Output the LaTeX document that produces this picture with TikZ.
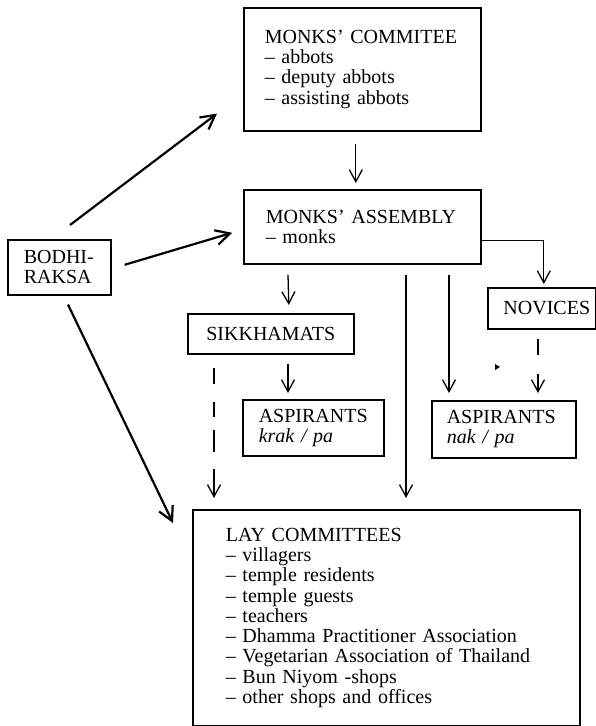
\documentclass[tikz,border=0pt]{standalone}
\usepackage{fontspec}
\setmainfont{Liberation Serif}
\usetikzlibrary{arrows.meta}
\begin{document}
\begin{tikzpicture}[x=1pt,y=-1pt,
  font=\fontsize{20}{20.25}\selectfont,
  box/.style={draw, line width=1.6pt, anchor=north west, inner ysep=0pt, align=left},
  conn/.style={line width=1.3pt, -{Straight Barb[length=12pt,width=13pt]}},
  diag/.style={line width=2.2pt, -{Straight Barb[length=14pt,width=15pt]}}]
\useasboundingbox (0,0) rectangle (596,726);

% boxes
\node[box, text width=195pt, inner xsep=21pt, minimum height=123pt] (comm) at (243,7)
  {MONKS' COMMITEE\\-- abbots\\-- deputy abbots\\-- assisting abbots};
\node[box, text width=193pt, inner xsep=22pt, minimum height=74pt] (assem) at (243,189)
  {MONKS' ASSEMBLY\\-- monks};
\node[box, text width=71pt, inner xsep=16pt, minimum height=55pt] (bodhi) at (7,239)
  {BODHI-\\RAKSA};
\node[box, align=center, minimum width=166pt, minimum height=40pt, inner xsep=0pt] (sikkh) at (187,313)
  {SIKKHAMATS};
\node[box, align=center, minimum width=108pt, minimum height=41pt, inner xsep=0pt] (nov) at (487,287)
  {\hspace*{10pt}NOVICES};
\node[box, text width=109pt, inner xsep=16pt, minimum height=56pt] (asp1) at (242,399)
  {ASPIRANTS\\\textit{krak / pa}};
\node[box, text width=114pt, inner xsep=15pt, minimum height=57pt] (asp2) at (431,400)
  {ASPIRANTS\\\textit{nak / pa}};
\node[box, text width=321pt, inner xsep=33pt, minimum height=216pt] (lay) at (192,509)
  {LAY COMMITTEES\\-- villagers\\-- temple residents\\-- temple guests\\-- teachers\\-- Dhamma Practitioner Association\\-- Vegetarian Association of Thailand\\-- Bun Niyom -shops\\-- other shops and offices};

% connectors from BODHI-RAKSA
\draw[diag] ([shift={(63pt,14pt)}]bodhi.north west) -- ([shift={(-26pt,18pt)}]comm.south west);
\draw[diag] ([shift={(13pt,2.5pt)}]bodhi.east) -- ([shift={(-11pt,-6pt)}]assem.west);
\draw[diag] ([shift={(61pt,-9pt)}]bodhi.south west) -- ([shift={(-19pt,-14pt)}]lay.north west);

% committee -> assembly
\draw[conn] ([shift={(-6.5pt,-12pt)}]comm.south) -- ([shift={(-6.5pt,6pt)}]assem.north);

% assembly -> others
\draw[conn] ([yshift=-14pt]assem.east) -| ([shift={(2pt,3pt)}]nov.north);
\draw[conn] ([shift={(45pt,-10pt)}]assem.south west) -- ([shift={(18pt,8pt)}]sikkh.north);
\draw[conn] ([shift={(163pt,-10pt)}]assem.south west) -- ([shift={(214pt,11pt)}]lay.north west);
\draw[conn] ([shift={(206pt,-10pt)}]assem.south west) -- ([shift={(18pt,7pt)}]asp2.north west);

% sikkhamats
\draw[conn] ([shift={(101pt,-9pt)}]sikkh.south west) -- ([shift={(46pt,6pt)}]asp1.north west);
\draw[conn, dash pattern=on 16pt off 18pt on 15pt off 13pt on 22pt off 17pt on 60pt off 1pt]
  ([shift={(27pt,-13pt)}]sikkh.south west) -- ([shift={(22pt,11pt)}]lay.north west);

% novices
\draw[conn, dash pattern=on 16pt off 19pt on 60pt off 1pt]
  ([shift={(51pt,-9pt)}]nov.south west) -- ([shift={(107pt,7pt)}]asp2.north west);

% small mark
\fill (495,364) -- (500,367) -- (495,370) -- cycle;
\end{tikzpicture}
\end{document}
